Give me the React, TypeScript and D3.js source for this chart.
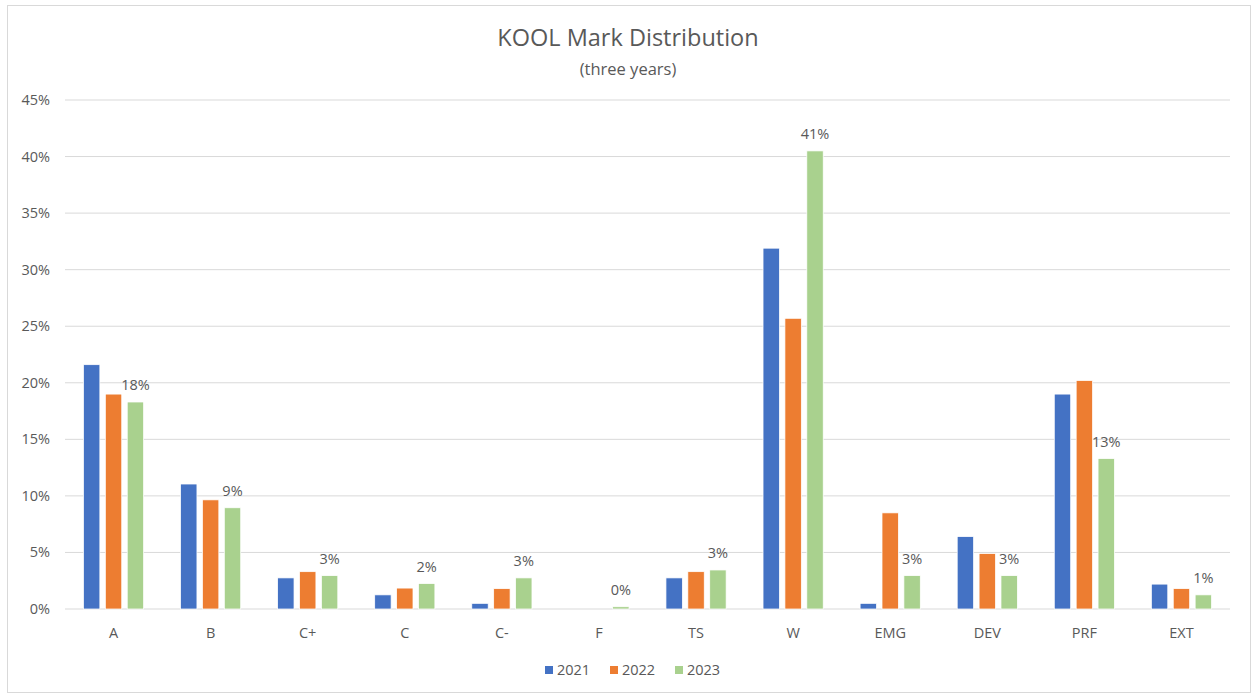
import React from "react";
import * as d3 from "d3";

const categories = ["A", "B", "C+", "C", "C-", "F", "TS", "W", "EMG", "DEV", "PRF", "EXT"];
const years = ["2021", "2022", "2023"];
const values2021 = [21.6, 11.05, 2.75, 1.25, 0.5, 0, 2.75, 31.9, 0.5, 6.4, 19.0, 2.2];
const values2022 = [19.0, 9.65, 3.3, 1.85, 1.8, 0, 3.3, 25.7, 8.5, 4.9, 20.2, 1.8];
const values2023 = [18.3, 8.95, 2.95, 2.25, 2.75, 0.2, 3.45, 40.5, 2.95, 2.95, 13.3, 1.25];
const yTicks = [0, 5, 10, 15, 20, 25, 30, 35, 40, 45];
const colors = ["#4472C4", "#ED7D31", "#A9D18E"];

const W = 1251;
const H = 695;
const left = 65;
const right = 1230;
const top = 100;
const bottom = 609;
const font = "'Open Sans', Calibri, sans-serif";
const fs = 14.5;

export default function App() {
  const series = [values2021, values2022, values2023];
  const x = d3.scaleBand<string>().domain(categories).range([left, right]).paddingInner(0.38).paddingOuter(0.19);
  const y = d3.scaleLinear().domain([0, 45]).range([bottom, top]);
  const xs = d3.scaleBand<string>().domain(years).range([0, x.bandwidth()]).paddingInner(0.25);
  const text = "#595959";
  return (
    <svg width={W} height={H} style={{ position: "absolute", left: 0, top: 0, background: "#fff" }}>
      <rect x={7.5} y={5.5} width={1243} height={687} fill="#fff" stroke="#D9D9D9" />
      <text x={628} y={46} textAnchor="middle" fontFamily={font} fontSize={23.5} fill={text}>
        KOOL Mark Distribution
      </text>
      <text x={628} y={75} textAnchor="middle" fontFamily={font} fontSize={16.5} fill={text}>
        (three years)
      </text>
      {yTicks.map((t) => (
        <g key={t}>
          <line x1={left} x2={right} y1={y(t)} y2={y(t)} stroke="#D9D9D9" strokeWidth={1} />
          <text x={50} y={y(t) + 5} textAnchor="end" fontFamily={font} fontSize={fs} fill={text}>
            {t}%
          </text>
        </g>
      ))}
      {categories.map((c, i) => (
        <g key={c}>
          {series.map((s, k) => {
            const bx = (x(c) as number) + (xs(years[k]) as number);
            const v = s[i];
            if (v <= 0) return null;
            return (
              <rect key={k} x={bx} y={y(v)} width={xs.bandwidth()} height={bottom - y(v)} fill={colors[k]} stroke="#fff" strokeWidth={0.75} />
            );
          })}
          <text
            x={(x(c) as number) + (xs("2023") as number) + xs.bandwidth() / 2}
            y={y(values2023[i]) - 12}
            textAnchor="middle"
            fontFamily={font}
            fontSize={fs}
            fill={text}
          >
            {Math.round(values2023[i])}%
          </text>
          <text x={(x(c) as number) + x.bandwidth() / 2} y={638} textAnchor="middle" fontFamily={font} fontSize={fs} fill={text}>
            {c}
          </text>
        </g>
      ))}
      {years.map((yr, k) => {
        const lx = 545 + k * 65;
        return (
          <g key={yr}>
            <rect x={lx} y={666} width={8} height={8} fill={colors[k]} />
            <text x={lx + 12} y={675} fontFamily={font} fontSize={fs} fill={text}>
              {yr}
            </text>
          </g>
        );
      })}
    </svg>
  );
}
